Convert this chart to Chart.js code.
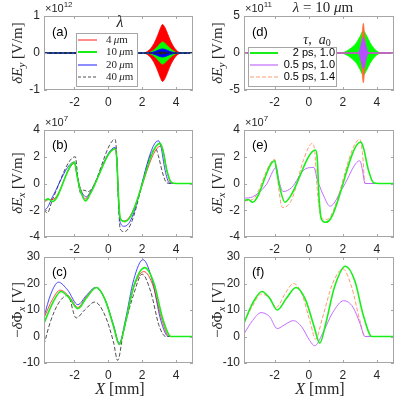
<!DOCTYPE html>
<html>
<head>
<meta charset="utf-8">
<script src="https://cdn.jsdelivr.net/npm/chart.js@4.4.0/dist/chart.umd.min.js"></script>
<style>
html, body { margin: 0; padding: 0; background: #fff; }
#wrap { position: relative; width: 399px; height: 398px; }
#wrap canvas { position: absolute; left: 0; top: 0; }
</style>
</head>
<body>
<div id="wrap">
  <canvas id="pa" width="399" height="398"></canvas>
  <canvas id="pb" width="399" height="398"></canvas>
  <canvas id="pc" width="399" height="398"></canvas>
  <canvas id="pd" width="399" height="398"></canvas>
  <canvas id="pe" width="399" height="398"></canvas>
  <canvas id="pf" width="399" height="398"></canvas>
</div>
<script>
// tick labels
const xTicks = [-2, 0, 2, 4];
const yTicksA = [-1, 0, 1];
const yTicksB = [-4, -2, 0, 2, 4];
const yTicksC = [-10, 0, 10, 20, 30];
const yTicksD = [-5, 0, 5];

// (a) dE_y envelopes, x1e12 V/m
const aRedX = [-3.8, 2.1, 2.3, 2.5, 2.7, 2.9, 3.05, 3.2, 3.35, 3.5, 3.7, 3.9, 4.1, 4.3, 5];
const aRedUp = [0, 0, 0.04, 0.12, 0.26, 0.46, 0.64, 0.77, 0.68, 0.52, 0.3, 0.14, 0.04, 0, 0];
const aRedLo = [0, 0, -0.04, -0.12, -0.26, -0.46, -0.64, -0.77, -0.68, -0.52, -0.3, -0.14, -0.04, 0, 0];
const aGreenX = [-3.8, 2.3, 2.5, 2.7, 2.9, 3.05, 3.2, 3.35, 3.5, 3.7, 3.9, 4.1, 5];
const aGreenUp = [0, 0, 0.03, 0.08, 0.17, 0.25, 0.3, 0.26, 0.19, 0.1, 0.04, 0, 0];
const aGreenLo = [0, 0, -0.03, -0.08, -0.17, -0.25, -0.3, -0.26, -0.19, -0.1, -0.04, 0, 0];
const aBlueX = [-3.8, 2.4, 2.6, 2.8, 3.0, 3.2, 3.4, 3.6, 3.8, 4.0, 5];
const aBlueUp = [0, 0, 0.02, 0.05, 0.09, 0.11, 0.09, 0.05, 0.02, 0, 0];
const aBlueLo = [0, 0, -0.02, -0.05, -0.09, -0.11, -0.09, -0.05, -0.02, 0, 0];
const aBlackX = [-3.8, 2.8, 3.0, 3.2, 3.4, 3.6, 5];
const aBlackUp = [0, 0, 0.02, 0.035, 0.02, 0, 0];
const aBlackLo = [0, 0, -0.02, -0.035, -0.02, 0, 0];

// (b) dE_x, x1e7 V/m
const bGreenX = [-3.8, -3.55, -3.3, -2.0, -1.85, -1.7, -1.35, -1.1, 0.4, 0.5, 0.6, 0.7, 0.95, 1.3, 3.05, 3.2, 3.45, 3.75, 4.0, 5];
const bGreenY = [-1.3, -1.15, -1.35, 1.6, 0.6, -0.3, -1.3, -0.85, 2.6, 1.8, -1.0, -2.6, -2.85, -2.5, 3.0, 2.6, 1.0, 0.05, 0, 0];
const bRedX = [-3.8, -3.5, -3.3, -2.0, -1.85, -1.7, -1.35, -1.1, 0.4, 0.5, 0.6, 0.7, 0.95, 1.3, 3.1, 3.25, 3.45, 3.7, 4.0, 5];
const bRedY = [-1.4, -1.2, -1.2, 1.5, 0.6, -0.2, -1.15, -0.75, 2.6, 1.8, -1.0, -2.6, -2.8, -2.4, 2.8, 2.4, 1.0, 0.05, 0, 0];
const bBlueX = [-3.8, -3.6, -3.3, -2.0, -1.85, -1.7, -1.3, -1.05, 0.4, 0.5, 0.6, 0.7, 0.95, 1.3, 2.95, 3.1, 3.35, 3.6, 3.9, 5];
const bBlueY = [-2.0, -1.8, -1.0, 1.6, 0.7, -0.2, -1.0, -0.6, 2.7, 1.8, -1.2, -2.9, -3.2, -2.8, 3.2, 2.8, 1.0, 0.05, 0, 0];
const bBlackX = [-3.8, -3.6, -3.3, -1.95, -1.8, -1.65, -1.45, -1.2, 0.4, 0.5, 0.6, 0.7, 0.95, 1.3, 2.8, 2.95, 3.2, 3.45, 3.7, 5];
const bBlackY = [-2.0, -2.2, -1.2, 2.0, 0.4, -0.7, -0.5, -0.6, 3.3, 2.0, -1.5, -3.4, -3.6, -3.1, 2.6, 2.1, 0.8, 0.05, 0, 0];

// (c) -dPhi_x, V
const cGreenX = [-3.8, -3.3, -2.8, -2.3, -1.8, -1.3, -0.7, -0.2, 0.3, 0.65, 1.0, 1.5, 2.15, 2.7, 3.2, 3.7, 5];
const cGreenY = [5, 12.5, 17, 14.5, 10.5, 14.5, 18.5, 14, 4, -3, 5, 19, 26, 20, 7, 0, 0];
const cRedX = [-3.8, -3.3, -2.85, -2.3, -1.8, -1.3, -0.7, -0.2, 0.3, 0.65, 1.0, 1.5, 2.1, 2.65, 3.15, 3.6, 5];
const cRedY = [7, 14, 17.5, 15, 11, 15, 18.5, 14, 4, -3, 5, 18.5, 24.5, 19, 6.5, 0, 0];
const cBlueX = [-3.8, -3.4, -2.95, -2.4, -1.8, -1.3, -0.75, -0.2, 0.3, 0.65, 1.0, 1.5, 2.05, 2.6, 3.1, 3.55, 5];
const cBlueY = [7.5, 16, 20.5, 17.5, 12, 15.5, 18.5, 14, 4.5, -2.5, 6, 21.5, 29, 21, 6, 0, 0];
const cBlackX = [-3.8, -3.4, -2.9, -2.4, -1.9, -1.4, -0.8, -0.2, 0.3, 0.55, 0.9, 1.5, 2.0, 2.5, 3.0, 3.4, 5];
const cBlackY = [-3, 6, 13, 15.5, 7, 10, 13, 8, -2, -9, 2, 16, 23.5, 17, 4, 0, 0];

// (d) dE_y envelopes, x1e11 V/m
const dGreenX = [-3.8, 1.9, 2.2, 2.5, 2.8, 3.0, 3.2, 3.4, 3.6, 3.8, 4.0, 4.3, 5];
const dGreenUp = [0, 0, 0.25, 0.7, 1.4, 2.2, 3.0, 2.3, 1.4, 0.7, 0.25, 0, 0];
const dGreenLo = [0, 0, -0.25, -0.7, -1.4, -2.2, -3.0, -2.3, -1.4, -0.7, -0.25, 0, 0];
const dOrangeX = [-3.8, 3.0, 3.1, 3.2, 3.3, 3.4, 5];
const dOrangeUp = [0, 0, 1.6, 4.0, 1.6, 0, 0];
const dOrangeLo = [0, 0, -1.6, -4.0, -1.6, 0, 0];
const dPurpleX = [-3.8, 2.9, 3.05, 3.2, 3.35, 3.5, 5];
const dPurpleUp = [0, 0, 1.0, 2.1, 1.0, 0, 0];
const dPurpleLo = [0, 0, -1.0, -2.1, -1.0, 0, 0];

// (e) dE_x, x1e7 V/m
const eGreenX = [-3.8, -3.55, -3.3, -2.0, -1.85, -1.7, -1.4, -1.1, 0.4, 0.5, 0.6, 0.75, 1.0, 1.3, 3.05, 3.2, 3.5, 3.8, 4.1, 5];
const eGreenY = [-1.3, -1.2, -1.4, 1.7, 0.7, -0.3, -1.4, -1.0, 2.5, 1.8, -1.0, -2.7, -2.9, -2.6, 3.1, 2.7, 1.0, 0.05, 0, 0];
const ePurpleX = [-3.8, -3.3, -2.5, -1.9, -1.75, -1.5, -1.0, -0.2, 0.3, 0.5, 0.9, 1.25, 2.0, 3.0, 3.15, 3.3, 5];
const ePurpleY = [-1.1, -1.0, -0.1, 1.2, 0.2, -0.6, -0.3, 1.1, 1.2, 0.3, -1.0, -1.7, -0.3, 1.7, 1.0, 0, 0];
const eOrangeX = [-3.8, -3.3, -2.0, -1.85, -1.55, -1.0, -0.3, 0.2, 0.35, 0.5, 0.7, 1.0, 1.3, 3.0, 3.15, 3.3, 5];
const eOrangeY = [-1.3, -1.2, 1.8, 0.5, -1.8, -1.2, 1.8, 3.0, 2.4, -0.5, -2.4, -2.7, -2.4, 3.3, 2.3, 0, 0];

// (f) -dPhi_x, V
const fGreenX = [-3.8, -3.3, -2.75, -2.3, -1.85, -1.3, -0.75, -0.2, 0.3, 0.65, 1.0, 1.5, 2.15, 2.7, 3.2, 3.7, 5];
const fGreenY = [5, 12.5, 17, 14.5, 10, 14.5, 18.5, 14, 4, -2.5, 5, 18.5, 26.5, 21, 8, 0, 0];
const fOrangeX = [-3.8, -3.3, -2.8, -2.3, -1.9, -1.4, -0.9, -0.4, 0.1, 0.4, 0.8, 1.4, 2.0, 2.5, 3.0, 3.3, 5];
const fOrangeY = [5.5, 11.5, 16, 14.5, 11, 16, 20, 16, 5, -1, 7, 20, 25.5, 19, 6, 0, 0];
const fPurpleX = [-3.8, -3.3, -2.8, -2.3, -1.85, -1.4, -0.9, -0.4, 0.05, 0.35, 0.8, 1.4, 2.05, 2.6, 3.0, 3.3, 5];
const fPurpleY = [1, 6, 9, 7.5, 3, 4.5, 6, 3.5, -1.5, -3.5, 1, 9, 13.5, 11, 5, 0, 0];

const RED = '#ff1a1a', GREEN = '#1aee1a', BLUE = '#1a1aff', BLACK = '#222';
const PURPLE = '#c36bff', ORANGE = '#ff9a6e';
const AXIS = '#a6a6a6', TXT = '#262626';

function xy(xs, ys) { return xs.map((x, i) => ({ x: x, y: ys[i] })); }

function curve(xs, ys, color, width, dash) {
    return {
        data: xy(xs, ys), borderColor: color, borderWidth: width, borderDash: dash || [],
        pointRadius: 0, fill: false, cubicInterpolationMode: 'monotone'
    };
}

function band(xs, up, lo, color, dash) {
    return [
        { data: xy(xs, up), borderColor: color, backgroundColor: color, borderWidth: 0.8, borderDash: dash || [],
          pointRadius: 0, fill: '+1', cubicInterpolationMode: 'monotone' },
        { data: xy(xs, lo), borderColor: color, borderWidth: 0.8, borderDash: dash || [],
          pointRadius: 0, fill: false, cubicInterpolationMode: 'monotone' }
    ];
}

// text made of pieces with their own fonts, centred (or left aligned) at x,y
function rich(ctx, parts, x, y, rot, align) {
    ctx.save();
    ctx.translate(x, y);
    if (rot) ctx.rotate(-Math.PI / 2);
    let w = 0;
    parts.forEach(p => { ctx.font = p[1]; w += ctx.measureText(p[0]).width; });
    let cx = align === 'left' ? 0 : -w / 2;
    ctx.textBaseline = 'middle';
    ctx.textAlign = 'left';
    ctx.fillStyle = TXT;
    parts.forEach(p => {
        ctx.font = p[1];
        ctx.fillText(p[0], cx, p[2] || 0);
        cx += ctx.measureText(p[0]).width;
    });
    ctx.restore();
}

const SER = '"Liberation Serif", "DejaVu Serif", serif';
const SAN = '"Liberation Sans", Arial, sans-serif';

function expo(ctx, x, y, p) {
    rich(ctx, [['×10', '11px ' + SAN], [p, '8px ' + SAN, -4]], x, y, false, 'left');
}
function panelLabel(ctx, t, x, y) {
    ctx.save();
    ctx.font = '13px ' + SAN;
    ctx.fillStyle = '#000';
    ctx.textBaseline = 'middle';
    ctx.fillText(t, x, y);
    ctx.restore();
}
const titleEy = [['δ', 'italic 15px ' + SER], ['E', 'italic 15px ' + SER], ['y', 'italic 11px ' + SER, 4], [' [V/m]', '15px ' + SER]];
const titleEx = [['δ', 'italic 15px ' + SER], ['E', 'italic 15px ' + SER], ['x', 'italic 11px ' + SER, 4], [' [V/m]', '15px ' + SER]];
const titlePhi = [['−', '15px ' + SER], ['δ', 'italic 15px ' + SER], ['Φ', '15px ' + SER], ['x', 'italic 11px ' + SER, 4], [' [V]', '15px ' + SER]];
const titleX = [['X', 'italic 16px ' + SER], [' [mm]', '16px ' + SER]];

function sample(ctx, x0, x1, y, color, width, dash) {
    ctx.save();
    ctx.strokeStyle = color;
    ctx.lineWidth = width;
    ctx.setLineDash(dash || []);
    ctx.beginPath();
    ctx.moveTo(x0, y);
    ctx.lineTo(x1, y);
    ctx.stroke();
    ctx.restore();
}

const frame = {
    id: 'frame',
    afterDatasetsDraw(chart) {
        const { ctx, chartArea: a, scales } = chart;
        ctx.save();
        ctx.strokeStyle = AXIS;
        ctx.lineWidth = 1;
        ctx.strokeRect(a.left + 0.5, a.top + 0.5, a.right - a.left - 1, a.bottom - a.top - 1);
        ctx.beginPath();
        scales.x.ticks.forEach(t => {
            const px = Math.round(scales.x.getPixelForValue(t.value)) + 0.5;
            ctx.moveTo(px, a.bottom); ctx.lineTo(px, a.bottom - 3);
            ctx.moveTo(px, a.top); ctx.lineTo(px, a.top + 3);
        });
        scales.y.ticks.forEach(t => {
            const py = Math.round(scales.y.getPixelForValue(t.value)) + 0.5;
            ctx.moveTo(a.left, py); ctx.lineTo(a.left + 3, py);
            ctx.moveTo(a.right, py); ctx.lineTo(a.right - 3, py);
        });
        ctx.stroke();
        ctx.restore();
    }
};

function makeChart(id, datasets, p) {
    return new Chart(document.getElementById(id), {
        type: 'line',
        data: { datasets: datasets },
        options: {
            responsive: false,
            animation: false,
            layout: { padding: { left: p.left - 30, right: 399 - p.right, top: p.top, bottom: 398 - p.bottom - 22 } },
            plugins: { legend: { display: false }, tooltip: { enabled: false } },
            scales: {
                x: {
                    type: 'linear', min: -3.8, max: 5,
                    grid: { display: false, drawTicks: false }, border: { display: false },
                    afterBuildTicks: s => { s.ticks = xTicks.map(v => ({ value: v })); },
                    afterFit: s => { s.height = 22; },
                    ticks: { color: TXT, font: { family: SAN, size: 12 }, padding: 5, maxRotation: 0, autoSkip: false }
                },
                y: {
                    type: 'linear', min: p.ymin, max: p.ymax,
                    grid: { display: false, drawTicks: false }, border: { display: false },
                    afterBuildTicks: s => { s.ticks = p.yTicks.map(v => ({ value: v })); },
                    afterFit: s => { s.width = 30; },
                    ticks: { color: TXT, font: { family: SAN, size: 12 }, padding: 4, autoSkip: false }
                }
            }
        },
        plugins: [frame, { id: 'deco', afterDraw: c => p.deco(c.ctx) }]
    });
}

// (a)
makeChart('pa', [
    ...band(aBlackX, aBlackUp, aBlackLo, BLACK, [3, 2]),
    ...band(aBlueX, aBlueUp, aBlueLo, '#0000ff'),
    ...band(aGreenX, aGreenUp, aGreenLo, '#00ff00'),
    ...band(aRedX, aRedUp, aRedLo, '#ff0000')
], {
    left: 44, right: 193, top: 16, bottom: 90, ymin: -1, ymax: 1, yTicks: yTicksA,
    deco: ctx => {
        expo(ctx, 45, 9, '12');
        rich(ctx, titleEy, 18, 53, true);
        panelLabel(ctx, '(a)', 52, 32);
        ctx.save();
        ctx.fillStyle = '#fff';
        ctx.fillRect(76, 33, 61, 53);
        ctx.strokeStyle = AXIS;
        ctx.strokeRect(76.5, 33.5, 61, 53);
        ctx.restore();
        rich(ctx, [['λ', 'italic 16px ' + SER]], 120, 23);
        const rows = [40, 52, 65, 77];
        const names = ['4', '10', '20', '40'];
        sample(ctx, 78, 97, rows[0], RED, 1);
        sample(ctx, 78, 97, rows[1], GREEN, 2);
        sample(ctx, 78, 97, rows[2], BLUE, 1);
        sample(ctx, 78, 97, rows[3], BLACK, 0.8, [3, 2]);
        rows.forEach((r, i) => rich(ctx, [[names[i] + '\u2009', '11px ' + SER], ['μ', 'italic 11px ' + SER], ['m', '11px ' + SER]], 106, r, false, 'left'));
    }
});

// (b)
makeChart('pb', [
    curve(bGreenX, bGreenY, GREEN, 1.6),
    curve(bRedX, bRedY, RED, 0.8),
    curve(bBlueX, bBlueY, BLUE, 0.8),
    curve(bBlackX, bBlackY, BLACK, 0.8, [4, 2])
], {
    left: 44, right: 193, top: 130, bottom: 237, ymin: -4, ymax: 4, yTicks: yTicksB,
    deco: ctx => {
        expo(ctx, 45, 123, '7');
        rich(ctx, titleEx, 18, 183, true);
        panelLabel(ctx, '(b)', 52, 145);
    }
});

// (c)
makeChart('pc', [
    curve(cGreenX, cGreenY, GREEN, 1.6),
    curve(cRedX, cRedY, RED, 0.8),
    curve(cBlueX, cBlueY, BLUE, 0.8),
    curve(cBlackX, cBlackY, BLACK, 0.8, [4, 2])
], {
    left: 44, right: 193, top: 257, bottom: 363, ymin: -10, ymax: 30, yTicks: yTicksC,
    deco: ctx => {
        rich(ctx, titlePhi, 18, 310, true);
        panelLabel(ctx, '(c)', 52, 272);
        rich(ctx, titleX, 120, 390);
    }
});

// (d)
makeChart('pd', [
    ...band(dPurpleX, dPurpleUp, dPurpleLo, '#b64dff'),
    ...band(dOrangeX, dOrangeUp, dOrangeLo, '#ff6a33'),
    ...band(dGreenX, dGreenUp, dGreenLo, '#00ff00')
], {
    left: 244, right: 394, top: 16, bottom: 90, ymin: -5, ymax: 5, yTicks: yTicksD,
    deco: ctx => {
        rich(ctx, [['λ', 'italic 15px ' + SER], [' = 10 ', '15px ' + SER], ['μ', 'italic 15px ' + SER], ['m', '15px ' + SER]], 323, 8);
        expo(ctx, 245, 9, '11');
        rich(ctx, titleEy, 218, 53, true);
        panelLabel(ctx, '(d)', 252, 32);
        rich(ctx, [['τ', 'italic 14px ' + SER], [',  ', '14px ' + SER], ['a', 'italic 14px ' + SER], ['0', '10px ' + SER, 3]], 317, 40);
        ctx.save();
        ctx.fillStyle = '#fff';
        ctx.fillRect(248, 47, 88, 39);
        ctx.strokeStyle = AXIS;
        ctx.strokeRect(248.5, 47.5, 88, 39);
        ctx.restore();
        const rows = [53, 65, 77];
        const names = ['2 ps, 1.0', '0.5 ps, 1.0', '0.5 ps, 1.4'];
        sample(ctx, 250, 278, rows[0], GREEN, 2);
        sample(ctx, 250, 278, rows[1], PURPLE, 1.2);
        sample(ctx, 250, 278, rows[2], ORANGE, 1.2, [4, 2]);
        ctx.save();
        ctx.font = '11px ' + SAN;
        ctx.fillStyle = '#000';
        ctx.textAlign = 'right';
        ctx.textBaseline = 'middle';
        rows.forEach((r, i) => ctx.fillText(names[i], 335, r));
        ctx.restore();
    }
});

// (e)
makeChart('pe', [
    curve(eGreenX, eGreenY, GREEN, 1.6),
    curve(ePurpleX, ePurpleY, PURPLE, 1),
    curve(eOrangeX, eOrangeY, ORANGE, 1, [4, 2])
], {
    left: 244, right: 394, top: 130, bottom: 237, ymin: -4, ymax: 4, yTicks: yTicksB,
    deco: ctx => {
        expo(ctx, 245, 123, '7');
        rich(ctx, titleEx, 218, 183, true);
        panelLabel(ctx, '(e)', 252, 145);
    }
});

// (f)
makeChart('pf', [
    curve(fGreenX, fGreenY, GREEN, 1.6),
    curve(fPurpleX, fPurpleY, PURPLE, 1),
    curve(fOrangeX, fOrangeY, ORANGE, 1, [4, 2])
], {
    left: 244, right: 394, top: 257, bottom: 363, ymin: -10, ymax: 30, yTicks: yTicksC,
    deco: ctx => {
        rich(ctx, titlePhi, 218, 310, true);
        panelLabel(ctx, '(f)', 252, 272);
        rich(ctx, titleX, 320, 390);
    }
});
</script>
</body>
</html>
